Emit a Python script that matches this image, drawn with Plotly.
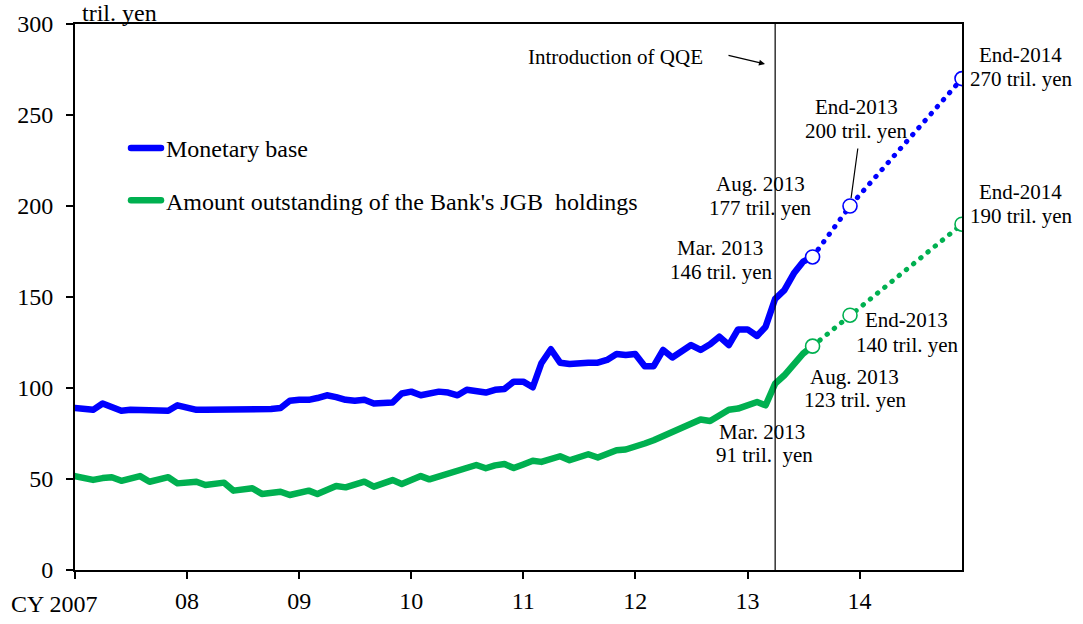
import pandas as pd
import plotly.graph_objects as go

# ---------------- data ----------------
monetary_base = [
    89, 88, 88, 91.5, 89.5, 87.5, 88, 88, 87.5, 88, 87.5, 90.5,
    89.5, 88, 88, 88, 88, 88, 88, 88, 88, 88.5, 89, 93,
    93.5, 93.5, 94.5, 96, 95, 93.5, 93, 93.5, 91.5, 92, 92, 97,
    98, 96, 97, 98, 97.5, 96, 99, 98, 97.5, 99, 99.5, 103.5,
    103.5, 100.4, 113.6, 121.3, 113.9, 113.2, 113.9, 113.9, 113.9, 115.4, 118.7, 118.1,
    118.7, 112, 112, 120.9, 116.8, 120.5, 123.6, 120.9, 124, 128.2, 123.6, 132.2,
    132.2, 128.6, 133.7, 149, 153.8, 163, 169.4, 172,
]
jgb_holdings = [
    51.6, 50.5, 49.5, 50.5, 51, 49, 50.5, 51.6, 48.5, 49.8, 51, 47.6,
    48, 48.5, 46.7, 47.5, 48, 43.6, 44.5, 44.9, 41.8, 42.5, 43, 41.2,
    42.5, 43.6, 41.8, 44, 46.2, 45.4, 47, 48.5, 45.8, 47.5, 49.4, 47.3,
    49.5, 51.6, 49.8, 51.5, 53.5, 54.6, 56, 57.7, 55.9, 57.5, 58.2, 56,
    58, 60, 59.4, 61, 62.5, 60.3, 62, 63.6, 61.8, 63.8, 65.8, 66.2,
    67.6, 69.5, 71.3, 73.5, 75.9, 78.3, 80.5, 82.7, 81.9, 85, 88.1, 88.7,
    90.5, 92.3, 90.5, 102.4, 107, 112.5, 118.9, 123,
]
months = pd.date_range(start="2007-01-01", periods=len(monetary_base), freq="MS")

target_dates = ["2013-08-01", "2013-12-01", "2014-12-01"]
mb_targets = [172, 200, 270]
jgb_targets = [123, 140, 190]

qqe_date = "2013-04-01"
year_ticks = [f"{y}-01-01" for y in range(2007, 2015)]
year_labels = ["", "08", "09", "10", "11", "12", "13", "14"]

BLUE = "#0000FF"
GREEN = "#00B050"
SERIF = "Liberation Serif, Times New Roman, serif"

# ---------------- figure ----------------
fig = go.Figure()
fig.add_trace(go.Scatter(x=months, y=monetary_base, mode="lines", name="Monetary base",
                         legendgroup="mb", line=dict(color=BLUE, width=6.5)))
fig.add_trace(go.Scatter(x=months, y=jgb_holdings, mode="lines",
                         name="Amount outstanding of the Bank's JGB  holdings",
                         legendgroup="jgb", line=dict(color=GREEN, width=6.5)))
fig.add_trace(go.Scatter(x=target_dates, y=mb_targets, mode="lines+markers", showlegend=False,
                         line=dict(color=BLUE, width=5, dash="0.5px,8.8px"),
                         marker=dict(symbol="circle", size=14, color="white",
                                     line=dict(color=BLUE, width=1.6))))
fig.add_trace(go.Scatter(x=target_dates, y=jgb_targets, mode="lines+markers", showlegend=False,
                         line=dict(color=GREEN, width=5, dash="0.5px,8.8px"),
                         marker=dict(symbol="circle", size=14, color="white",
                                     line=dict(color=GREEN, width=1.6))))

# QQE vertical line
fig.add_shape(type="line", xref="x", yref="paper", x0=qqe_date, x1=qqe_date, y0=0, y1=1,
              line=dict(color="black", width=1.2))

# ---------------- annotations ----------------
L, W, T, H = 75, 887, 24, 546


def px(xp, yp):
    return (xp - L) / W, (T + H - yp) / H


labels = [
    ("Mar. 2013", 720, 248), ("146 tril. yen", 721, 272),
    ("Aug. 2013", 760, 184), ("177 tril. yen", 760, 208),
    ("End-2013", 856, 107), ("200 tril. yen", 856, 131),
    ("End-2014", 1020, 55), ("270 tril. yen", 1021, 79),
    ("End-2014", 1020, 192), ("190 tril. yen", 1021, 216),
    ("End-2013", 906, 320), ("140 tril. yen", 907, 345),
    ("Aug. 2013", 854, 377), ("123 tril. yen", 855, 400),
    ("Mar. 2013", 762, 432), ("91 tril.  yen", 764, 455),
    ("Introduction of QQE", 615, 57),
]
for text, xp, yp in labels:
    ax_, ay_ = px(xp, yp)
    fig.add_annotation(text=text, xref="paper", yref="paper", x=ax_, y=ay_,
                       xanchor="center", yanchor="middle", showarrow=False,
                       font=dict(family=SERIF, size=21, color="black"))

# arrow for QQE
tx, ty = px(765, 64)
fig.add_annotation(text="", xref="paper", yref="paper", x=tx, y=ty, ax=-38, ay=-9,
                   showarrow=True, arrowhead=2, arrowsize=1, arrowwidth=1.2, arrowcolor="black")
# leader line to End-2013 monetary base target
fig.add_annotation(text="", xref="x", yref="y", x=target_dates[1], y=mb_targets[1], ax=8, ay=-59,
                   showarrow=True, arrowhead=0, arrowwidth=1.2, arrowcolor="black", standoff=8)

# unit label
ux, uy = px(80, 13)
fig.add_annotation(text="tril. yen", xref="paper", yref="paper", x=ux, y=uy, xanchor="left",
                   yanchor="middle", showarrow=False, font=dict(family=SERIF, size=24, color="black"))
# first x tick label
fig.add_annotation(text="CY 2007", xref="x", yref="paper", x=year_ticks[0], y=0, xshift=-21, yshift=-34,
                   xanchor="center", yanchor="middle", showarrow=False,
                   font=dict(family=SERIF, size=24, color="black"))

fig.update_xaxes(type="date", range=["2007-01-01", "2014-12-01"], tickmode="array",
                 tickvals=year_ticks, ticktext=year_labels, ticks="outside", ticklen=7,
                 tickwidth=1.5, tickcolor="black", showline=True, linecolor="black", linewidth=1.8,
                 mirror=True, showgrid=False, zeroline=False, ticklabelstandoff=1,
                 tickfont=dict(family=SERIF, size=24, color="black"))
fig.update_yaxes(range=[0, 300], tickmode="array", tickvals=[0, 50, 100, 150, 200, 250, 300],
                 ticks="outside", ticklen=7, tickwidth=1.5, tickcolor="black", showline=True,
                 linecolor="black", linewidth=1.8, mirror=True, showgrid=False, zeroline=False,
                 ticklabelstandoff=8, tickfont=dict(family=SERIF, size=24, color="black"))

lx, ly = px(126, 126)
fig.update_layout(
    width=1083, height=624,
    margin=dict(l=L, r=1083 - L - W, t=T, b=624 - T - H, autoexpand=False),
    plot_bgcolor="white", paper_bgcolor="white",
    showlegend=True,
    legend=dict(x=lx, y=ly, xanchor="left", yanchor="top", bgcolor="rgba(0,0,0,0)",
                font=dict(family=SERIF, size=24, color="black"), traceorder="grouped",
                tracegroupgap=18),
)

post = ("document.body.style.margin='0';document.body.style.padding='0';"
        "var s=document.createElement('style');"
        "s.textContent='body{margin:0;padding:0;} .scatterlayer .js-line, .legend .js-line{stroke-linecap:round;stroke-linejoin:round;}';"
        "document.head.appendChild(s);")
fig.write_html("out.html", post_script=post, config={"displayModeBar": False})
